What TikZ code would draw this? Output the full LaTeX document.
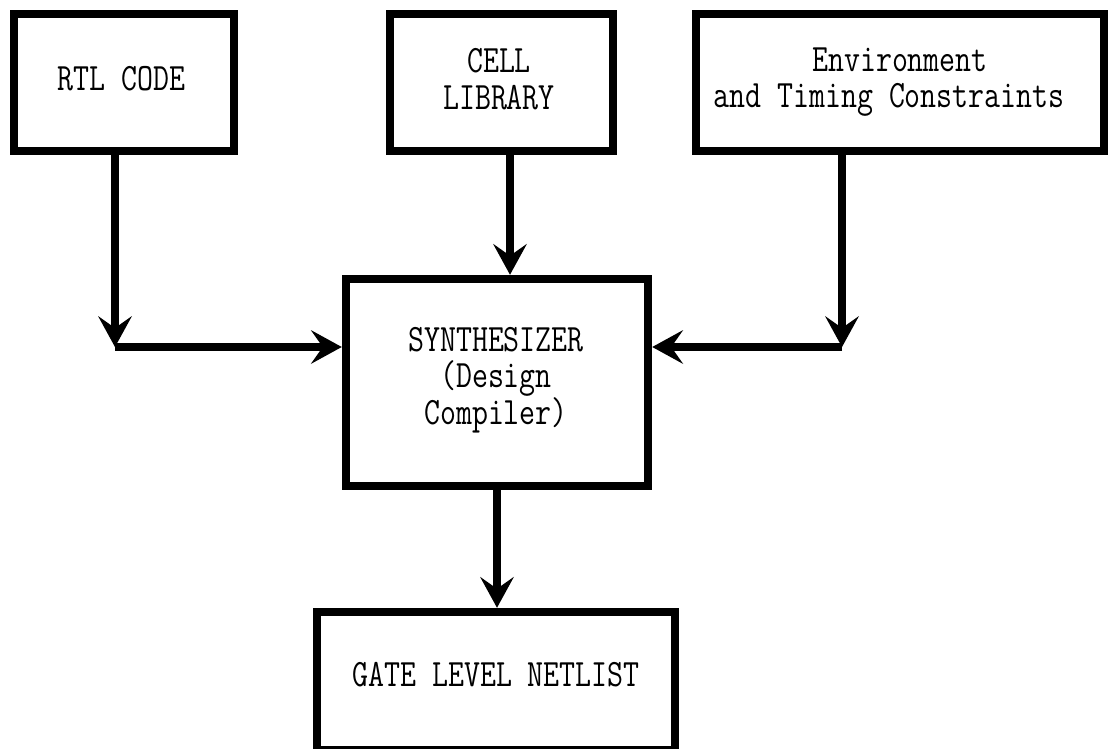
\documentclass[tikz,border=0pt]{standalone}
\usepackage{graphicx}
\usetikzlibrary{arrows.meta}
% tall, narrow monospaced lettering
\newcommand\tall[1]{\scalebox{1}[1.25]{#1}}
\tikzset{
  block/.style={draw=black, line width=8.5pt, fill=white, inner sep=0pt},
  caption/.style={inner sep=0pt, align=center,
    font=\ttfamily\fontsize{31}{36.5}\selectfont},
  flow/.style={draw=black, line width=8pt},
  head/.style={-{Stealth[length=31pt, width=34pt, inset=12pt, line width=0pt]}},
}
\begin{document}
\begin{tikzpicture}[x=1pt, y=-1pt]
  \fill[white] (0,0) rectangle (1109,749);
  \useasboundingbox (0,0) rectangle (1109,749);

  % input blocks
  \node[block, minimum width=220pt, minimum height=137pt] (rtl) at (124,82.5) {};
  \node[block, minimum width=223pt, minimum height=137pt] (cell) at (501.5,82.5) {};
  \node[block, minimum width=408pt, minimum height=137pt] (env) at (900,82.5) {};

  % synthesis tool
  \node[block, minimum width=302pt, minimum height=207pt] (synth) at (497,382.5) {};

  % result
  \node[block, minimum width=358pt, minimum height=138pt] (gate) at (496,681) {};

  % block texts
  \node[caption] (rtltext) at ([xshift=-2.5pt, yshift=4pt]rtl.center)
    {\tall{RTL CODE}};
  \node[caption] (celltext) at ([xshift=-2.5pt, yshift=3.5pt]cell.center)
    {\tall{CELL}\\\tall{LIBRARY}};
  \node[caption] (envtext) at ([yshift=0.5pt]env.center)
    {\tall{Environment}\\\tall{and Timing Constraints}\hspace*{22pt}};
  \node[caption] (synthtext) at ([xshift=-1pt, yshift=2.5pt]synth.center)
    {\tall{SYNTHESIZER}\\\tall{(Design}\\\tall{Compiler)}};
  \node[caption] (gatetext) at ([yshift=6pt]gate.center)
    {\tall{GATE LEVEL NETLIST}};

  % bends and drop points of the connectors
  \coordinate (lbend) at (115,347);
  \coordinate (rbend) at (842,347);
  \coordinate (mid) at (510,0);

  \draw[flow, head] (rtl.south -| lbend) -- (lbend);
  \draw[flow, head] (lbend) -- (synth.west |- lbend);
  \draw[flow, head] (env.south -| rbend) -- (rbend);
  \draw[flow, head] (rbend) -- (synth.east |- rbend);
  \draw[flow, head] (cell.south -| mid) -- (synth.north -| mid);
  \draw[flow, head] (synth.south) -- (gate.north -| synth.south);
\end{tikzpicture}
\end{document}
